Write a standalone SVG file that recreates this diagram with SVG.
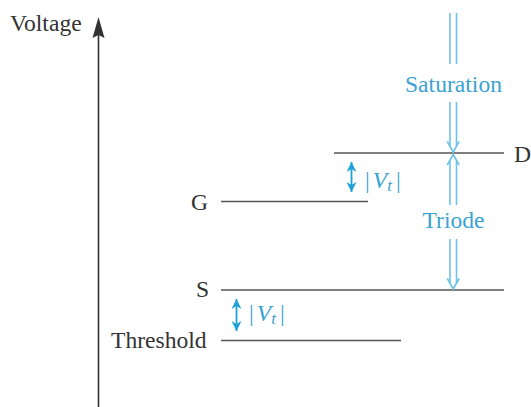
<svg xmlns="http://www.w3.org/2000/svg" width="531" height="407" viewBox="0 0 531 407">
<defs>
<style>
.lbl{font-family:'Liberation Serif','Times New Roman',serif;font-size:23.6px;fill:#333}
.cy{font-family:'Liberation Serif','Times New Roman',serif;font-size:23.6px;fill:#3aa3d2}
.lvl{stroke:#555;stroke-width:1.6;fill:none}
.dbl{stroke:#6cc3e6;stroke-width:1.6;fill:none}
.dim{stroke:#1ea0d8;stroke-width:1.8;fill:none}
</style>
<marker id="ah" viewBox="0 0 10 10" refX="10" refY="5" markerWidth="10" markerHeight="10" markerUnits="userSpaceOnUse" orient="auto-start-reverse">
<path d="M0,0 L10,5 L0,10 L3,5 Z" fill="#1ea0d8"/>
</marker>
</defs>
<g id="axis">
<line x1="98.5" y1="407" x2="98.5" y2="30" stroke="#333" stroke-width="1.6"/>
<path d="M98.5,17 L104.5,38 L98.5,35 L92.5,38 Z" fill="#333"/>
<text class="lbl" x="10" y="31">Voltage</text>
</g>
<g id="D">
<line class="lvl" x1="334" y1="153" x2="504" y2="153"/>
<text class="lbl" x="514" y="162">D</text>
</g>
<g id="G">
<line class="lvl" x1="221" y1="201.5" x2="368" y2="201.5"/>
<text class="lbl" x="191" y="210">G</text>
</g>
<g id="S">
<line class="lvl" x1="221" y1="290" x2="504" y2="290"/>
<text class="lbl" x="196" y="297">S</text>
</g>
<g id="Threshold">
<line class="lvl" x1="221" y1="340.5" x2="401" y2="340.5"/>
<text class="lbl" x="111" y="348">Threshold</text>
</g>
<g id="connectors">
<line class="dim" x1="351.5" y1="162" x2="351.5" y2="192" marker-start="url(#ah)" marker-end="url(#ah)"/>
<line class="dim" x1="236.5" y1="299" x2="236.5" y2="331" marker-start="url(#ah)" marker-end="url(#ah)"/>
<line class="dbl" x1="450" y1="13" x2="450" y2="64"/>
<line class="dbl" x1="456.5" y1="13" x2="456.5" y2="64"/>
<line class="dbl" x1="450" y1="102" x2="450" y2="146"/>
<line class="dbl" x1="456.5" y1="102" x2="456.5" y2="146"/>
<path class="dbl" d="M447.3,141.5 L453.2,152 L459.1,141.5"/>
<path class="dbl" d="M447.3,165 L453.2,154.5 L459.1,165"/>
<line class="dbl" x1="450" y1="160.5" x2="450" y2="205"/>
<line class="dbl" x1="456.5" y1="160.5" x2="456.5" y2="205"/>
<line class="dbl" x1="450" y1="239" x2="450" y2="283.5"/>
<line class="dbl" x1="456.5" y1="239" x2="456.5" y2="283.5"/>
<path class="dbl" d="M447.3,278.5 L453.2,289 L459.1,278.5"/>
</g>
<g id="labels">
<text class="cy" x="453.5" y="92" text-anchor="middle">Saturation</text>
<text class="cy" x="453.5" y="228" text-anchor="middle">Triode</text>
<text class="cy" x="365" y="188">|<tspan font-style="italic" dx="3">V</tspan><tspan font-style="italic" font-size="17" dy="3">t</tspan><tspan dx="4" dy="-3">|</tspan></text>
<text class="cy" x="249" y="321">|<tspan font-style="italic" dx="3">V</tspan><tspan font-style="italic" font-size="17" dy="3">t</tspan><tspan dx="4" dy="-3">|</tspan></text>
</g>
</svg>
